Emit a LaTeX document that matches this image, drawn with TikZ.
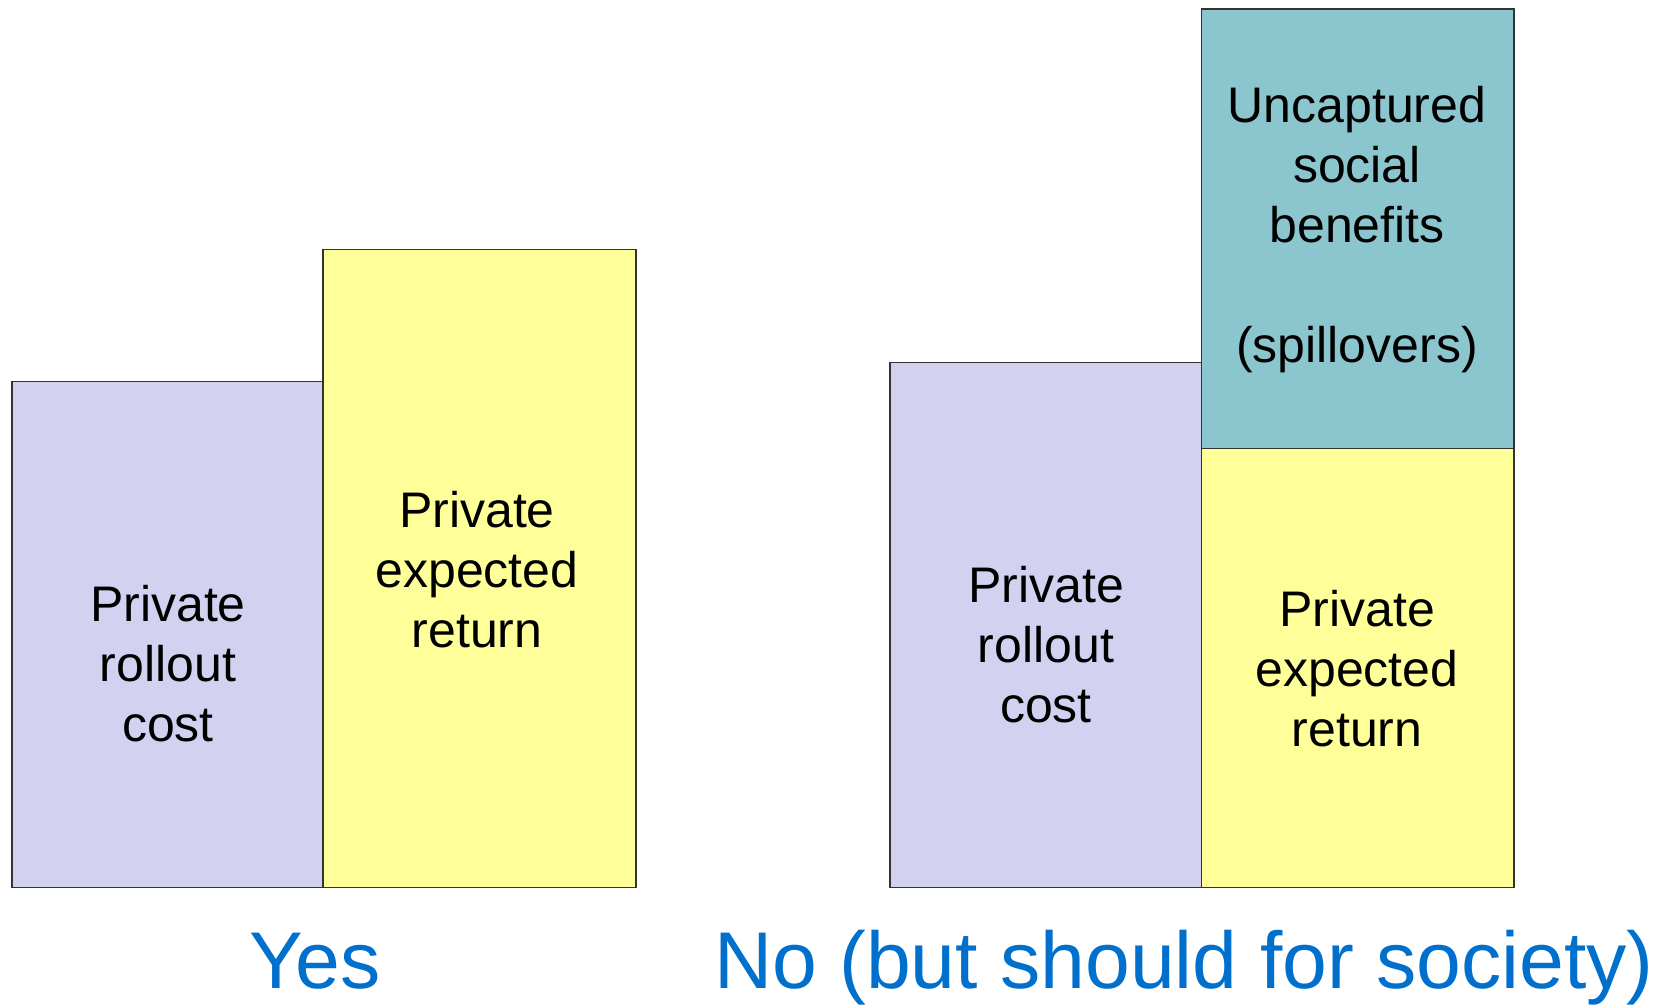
\documentclass[tikz,border=0pt]{standalone}
\usepackage{fontspec}
\setmainfont{Liberation Sans}
\definecolor{costfill}{RGB}{210,210,240}
\definecolor{returnfill}{RGB}{255,255,153}
\definecolor{spillfill}{RGB}{139,197,206}
\definecolor{answerblue}{RGB}{0,112,204}
\tikzset{
  bar/.style={draw=black!80, line width=1.5pt},
  bartext/.style={align=center, inner sep=0pt, font=\fontsize{50}{60}\selectfont},
  answer/.style={text=answerblue, inner sep=0pt, font=\fontsize{80.5}{92}\selectfont}
}
\begin{document}
\begin{tikzpicture}[x=1pt, y=-1pt]
 \useasboundingbox (0,0) rectangle (1657,1004);
 % left: rollout happens
 \draw[bar, fill=costfill] (12,381.5) rectangle (323,887.7);
 \draw[bar, fill=returnfill] (323,249.4) rectangle (636,887.7);
 \node[bartext] (costA) at (168,664) {Private\\rollout\\cost};
 \node[bartext] (returnA) at (477,570) {Private\\expected\\return};
 % right: no rollout
 \draw[bar, fill=costfill] (890,362.3) rectangle (1201.6,887.7);
 \draw[bar, fill=returnfill] (1201.6,448.3) rectangle (1514,887.7);
 \draw[bar, fill=spillfill] (1201.6,9) rectangle (1514,448.3);
 \node[bartext] (costB) at (1046,645) {Private\\rollout\\cost};
 \node[bartext] (returnB) at (1357,669) {Private\\expected\\return};
 \node[bartext] (spill) at (1357,230) {Uncaptured\\social\\benefits\\[60pt](spillovers)};
 % answers
 \node[answer, anchor=base] (yes) at (315,988) {Yes};
 \node[answer, anchor=base] (no) at (1184,988) {No (but should for society)};
\end{tikzpicture}
\end{document}
